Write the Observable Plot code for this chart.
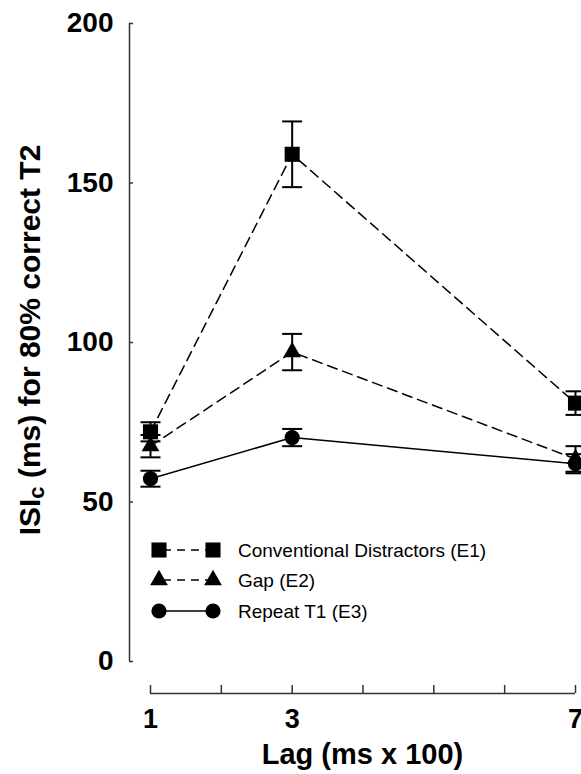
<!DOCTYPE html>
<html>
<head>
<meta charset="utf-8">
<script src="https://cdn.jsdelivr.net/npm/d3@7"></script>
<script src="https://cdn.jsdelivr.net/npm/@observablehq/plot@0.6"></script>
<style>
  html, body { margin: 0; padding: 0; background: #fff; }
  #chart { width: 581px; height: 774px; overflow: hidden; }
</style>
</head>
<body>
<div id="chart"></div>
<script>
// ---- data ----
const lags = [1, 3, 7];
const xTicks = [1, 2, 3, 4, 5, 6, 7];
const xTickLabels = [1, 3, 7];
const yTicks = [0, 50, 100, 150, 200];
const seriesNames = ["Conventional Distractors (E1)", "Gap (E2)", "Repeat T1 (E3)"];
const conventional = [72, 159, 81];
const conventionalErr = [3, 10.3, 3.7];
const gap = [67.5, 97, 63.5];
const gapErr = [3.5, 5.7, 4];
const repeat = [57.3, 70.2, 62];
const repeatErr = [2.5, 2.7, 3];
const xTitle = "Lag (ms x 100)";

// ---- styles ----
const FONT = "'Liberation Sans', Arial, sans-serif";
const seriesStyle = [
  {symbol: "square", r: 8.5, dash: "10,6"},
  {symbol: "triangle", r: 6.6, dash: "10,6"},
  {symbol: "circle", r: 7.6, dash: null}
];
const values = [conventional, gap, repeat];
const errs = [conventionalErr, gapErr, repeatErr];

const rows = [];
seriesNames.forEach((s, si) => lags.forEach((lag, i) => rows.push({
  series: s, si, lag, value: values[si][i], err: errs[si][i],
  lo: values[si][i] - errs[si][i], hi: values[si][i] + errs[si][i]
})));

const capSymbol = {
  draw(context, size) {
    const r = Math.sqrt(size / Math.PI);
    context.moveTo(-r, 0);
    context.lineTo(r, 0);
  }
};

const marginLeft = 129, xStart = 150, xEnd = 575;
const axisGap = 32;

const marks = [];
// axes lines
marks.push(Plot.ruleX([1], {y1: 0, y2: 200, dx: marginLeft - xStart, stroke: "#333", strokeWidth: 1.5}));
marks.push(Plot.ruleY([0], {x1: 1, x2: 7, dy: axisGap, stroke: "#333", strokeWidth: 1.5}));
// ticks
marks.push(Plot.axisY({ticks: yTicks, tickSize: 4, dx: 4, tickFormat: () => "", stroke: "#333", strokeWidth: 1.5, label: null}));
marks.push(Plot.axisX({ticks: xTicks, tickSize: 8, dy: axisGap - 8, tickFormat: () => "", stroke: "#333", strokeWidth: 1.5, label: null}));
// tick labels
marks.push(Plot.axisY({ticks: yTicks, tickSize: 0, tickPadding: 16, tickFormat: d3.format("d"), fontSize: 28, fontWeight: "bold", label: null}));
marks.push(Plot.axisX({ticks: xTickLabels, tickSize: 0, tickPadding: 15, dy: axisGap, tickFormat: d3.format("d"), fontSize: 27, fontWeight: "bold", label: null}));

// lines
seriesNames.forEach((s, si) => {
  marks.push(Plot.line(rows.filter(d => d.si === si), {
    x: "lag", y: "value", stroke: "black", strokeWidth: 1.5,
    strokeDasharray: seriesStyle[si].dash || undefined
  }));
});
// error bars
marks.push(Plot.ruleX(rows, {x: "lag", y1: "lo", y2: "hi", stroke: "black", strokeWidth: 2}));
marks.push(Plot.dot(rows, {x: "lag", y: "lo", symbol: capSymbol, r: 10, stroke: "black", strokeWidth: 2, fill: "none"}));
marks.push(Plot.dot(rows, {x: "lag", y: "hi", symbol: capSymbol, r: 10, stroke: "black", strokeWidth: 2, fill: "none"}));
// markers
seriesNames.forEach((s, si) => {
  marks.push(Plot.dot(rows.filter(d => d.si === si), {
    x: "lag", y: "value", symbol: seriesStyle[si].symbol, r: seriesStyle[si].r,
    fill: "black", stroke: "none"
  }));
});

const chart = Plot.plot({
  width: 581,
  height: 774,
  marginLeft,
  marginRight: 6,
  marginTop: 23,
  marginBottom: 113,
  x: {domain: [1, 7], range: [xStart, xEnd]},
  y: {domain: [0, 200]},
  style: {background: "white", fontFamily: FONT, color: "black"},
  marks
});

document.getElementById("chart").appendChild(chart);

// titles & legend
const svg = d3.select(chart);
const yTitle = svg.append("text")
  .attr("transform", "translate(40,340) rotate(-90)")
  .attr("text-anchor", "middle")
  .attr("font-family", FONT)
  .attr("font-size", 30)
  .attr("font-weight", "bold")
  .attr("fill", "black");
yTitle.append("tspan").text("ISI");
yTitle.append("tspan").attr("font-size", 22).attr("baseline-shift", "-4").text("c");
yTitle.append("tspan").text(" (ms) for 80% correct T2");

svg.append("text")
  .attr("x", (xStart + xEnd) / 2)
  .attr("y", 764)
  .attr("text-anchor", "middle")
  .attr("font-family", FONT)
  .attr("font-size", 29)
  .attr("font-weight", "bold")
  .attr("fill", "black")
  .text(xTitle);

const legendY = [550, 580, 611];
const legend = svg.append("g").attr("text-anchor", "start");
seriesNames.forEach((s, si) => {
  const st = seriesStyle[si];
  const y = legendY[si];
  legend.append("line")
    .attr("x1", 159).attr("x2", 213).attr("y1", y).attr("y2", y)
    .attr("stroke", "black").attr("stroke-width", 1.5)
    .attr("stroke-dasharray", st.dash ? "8,6" : null)
    .attr("stroke-dashoffset", st.dash ? -4 : null);
  const sym = d3.symbol().type(st.symbol === "square" ? d3.symbolSquare : st.symbol === "triangle" ? d3.symbolTriangle : d3.symbolCircle)
    .size(Math.PI * st.r * st.r);
  [159, 213].forEach(x => legend.append("path")
    .attr("d", sym())
    .attr("transform", `translate(${x},${y})`)
    .attr("fill", "black"));
  legend.append("text")
    .attr("x", 238).attr("y", y).attr("dy", "0.35em")
    .attr("text-anchor", "start")
    .attr("font-family", FONT).attr("font-size", 19).attr("fill", "black")
    .text(s);
});
</script>
</body>
</html>
